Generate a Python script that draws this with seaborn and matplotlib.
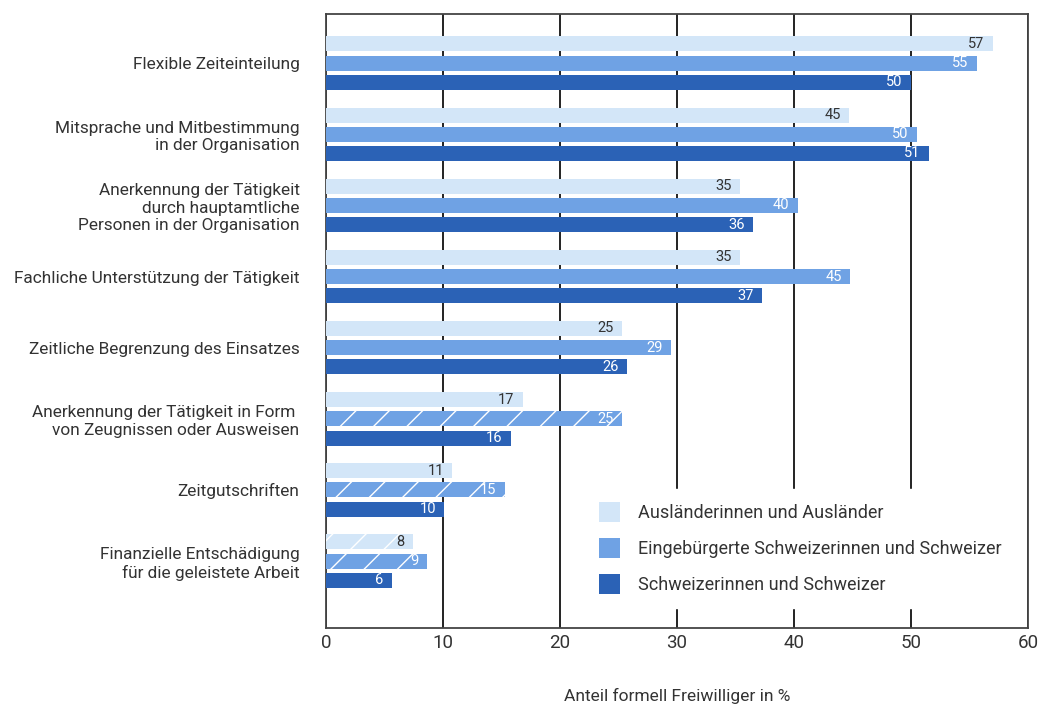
import matplotlib
matplotlib.use("Agg")
import matplotlib.pyplot as plt
import seaborn as sns
import pandas as pd
from matplotlib import font_manager

categories = [
    "Flexible Zeiteinteilung",
    "Mitsprache und Mitbestimmung\nin der Organisation",
    "Anerkennung der Tätigkeit\ndurch hauptamtliche\nPersonen in der Organisation",
    "Fachliche Unterstützung der Tätigkeit",
    "Zeitliche Begrenzung des Einsatzes",
    "Anerkennung der Tätigkeit in Form \nvon Zeugnissen oder Ausweisen",
    "Zeitgutschriften",
    "Finanzielle Entschädigung\nfür die geleistete Arbeit",
]
series = ["Ausländerinnen und Ausländer",
          "Eingebürgerte Schweizerinnen und Schweizer",
          "Schweizerinnen und Schweizer"]
auslaender = [57.0, 44.7, 35.4, 35.4, 25.3, 16.8, 10.8, 7.4]
eingebuergerte = [55.6, 50.5, 40.3, 44.8, 29.5, 25.3, 15.3, 8.6]
schweizer = [50.0, 51.5, 36.5, 37.3, 25.7, 15.8, 10.1, 5.6]
labels_auslaender = [57, 45, 35, 35, 25, 17, 11, 8]
labels_eingebuergerte = [55, 50, 40, 45, 29, 25, 15, 9]
labels_schweizer = [50, 51, 36, 37, 26, 16, 10, 6]
# hatched (small sample) flags
hatch_auslaender = [False] * 7 + [True]
hatch_eingebuergerte = [False] * 5 + [True, True, True]
hatch_schweizer = [False] * 8

colors = ["#d3e6f8", "#6fa2e4", "#2b62b6"]
text_colors = ["#333333", "white", "white"]

sns.set_theme(style="white")
avail = {f.name for f in font_manager.fontManager.ttflist}
fam = "Liberation Sans Narrow" if "Liberation Sans Narrow" in avail else "Roboto"
plt.rcParams["font.family"] = [fam, "DejaVu Sans"]
plt.rcParams["hatch.linewidth"] = 1.0

rows = []
for s, vals in zip(series, [auslaender, eingebuergerte, schweizer]):
    for c, v in zip(categories, vals):
        rows.append({"cat": c, "val": v, "grp": s})
df = pd.DataFrame(rows)

fig = plt.figure(figsize=(10.39, 7.09), dpi=100)
ax = fig.add_axes([326 / 1039, 1 - 628 / 709, (1028 - 326) / 1039, (628 - 14) / 709])

sns.barplot(data=df, y="cat", x="val", hue="grp", order=categories,
            hue_order=series, palette=colors, orient="h", width=0.81,
            gap=0.22, saturation=1, linewidth=0, ax=ax, zorder=3,
            legend=True)

labels_all = [labels_auslaender, labels_eingebuergerte, labels_schweizer]
hatches_all = [hatch_auslaender, hatch_eingebuergerte, hatch_schweizer]
for i, cont in enumerate(ax.containers):
    for j, bar in enumerate(cont):
        if hatches_all[i][j]:
            bar.set_hatch("/")
            bar.set_edgecolor("white")
            bar.set_linewidth(0)
        w = bar.get_width()
        yc = bar.get_y() + bar.get_height() / 2
        ax.annotate(str(labels_all[i][j]), (w, yc), xytext=(-6, 0),
                    textcoords="offset points", ha="right", va="center",
                    color=text_colors[i], fontsize=10.5, zorder=5)

ax.set_xlim(0, 60)
ax.set_ylim(7.94, -0.69)
ax.set_xticks([0, 10, 20, 30, 40, 50, 60])
ax.set_xticklabels(["0", "10", "20", "30", "40", "50", "60"])
ax.xaxis.grid(True, color="#222222", linewidth=1.4, zorder=0)
ax.set_axisbelow(True)
ax.tick_params(axis="x", labelsize=13.5, colors="#333333", length=0, pad=4)
ax.tick_params(axis="y", labelsize=12.4, colors="#333333", length=0, pad=19)
for lab in ax.get_yticklabels():
    lab.set_multialignment("right")
ax.set_ylabel("")
ax.set_xlabel("Anteil formell Freiwilliger in %", fontsize=12.5,
              color="#333333", labelpad=26)
for sp in ax.spines.values():
    sp.set_color("#444444")
    sp.set_linewidth(1.3)
    sp.set_visible(True)

leg = ax.legend(loc="lower right", bbox_to_anchor=(0.995, 0.018),
                frameon=True, facecolor="white", edgecolor="white",
                framealpha=1, fontsize=13, labelcolor="#333333",
                handlelength=1.2, handleheight=1.3, labelspacing=0.9,
                borderpad=0.75, handletextpad=1.0, fancybox=False)
leg.set_zorder(4)
for h in leg.legend_handles:
    h.set_hatch(None)

fig.savefig("out.png", dpi=100, facecolor="white")
